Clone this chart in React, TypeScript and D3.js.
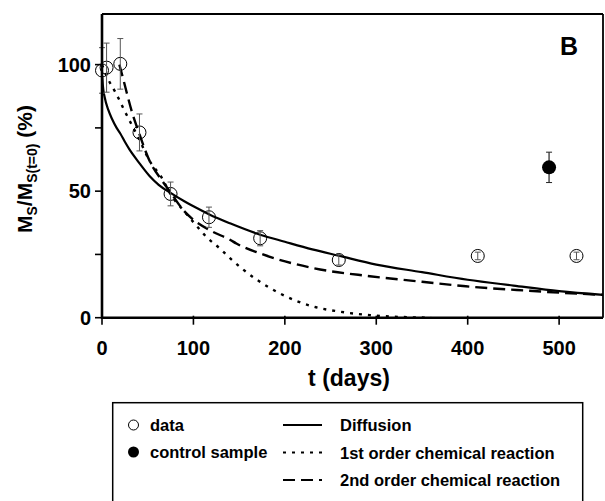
import React from "react";
import * as d3 from "d3";

// ---- data ----
const dataT = [0, 5, 20, 41, 75, 117, 173, 259, 411, 519];
const dataV = [97.7, 98.8, 100.3, 73.2, 48.9, 39.7, 31.4, 22.8, 24.4, 24.4];
const dataErr = [9, 9.7, 10, 7.3, 4.7, 4, 3, 2, 1.5, 1.5];

const controlT = [489];
const controlV = [59.4];
const controlErr = [6];

const diffT = [0.3, 1, 3, 7, 11, 16, 20, 25, 30, 40, 52, 62, 75, 90, 100, 118, 140, 173, 200, 230, 259, 300, 350, 400, 450, 500, 550];
const diffV = [95, 91.5, 87, 82, 78.5, 75, 72.8, 69.5, 66.5, 61.5, 56, 52.5, 49.3, 46, 44, 40.7, 37.3, 32.8, 30, 27, 24.5, 21, 18, 15, 12.7, 10.5, 9];

const firstT = [0, 7, 14, 19, 25, 30, 40, 52, 65, 75, 90, 103, 114, 130, 140, 167, 194, 231, 260, 293, 320, 360];
const firstV = [100, 94, 89.5, 86, 81.5, 78, 71, 62, 55.5, 48.8, 42, 36.5, 32, 27, 23.5, 15.6, 9.7, 4.4, 2.4, 1, 0.4, 0];

const secondT = [19, 22, 27, 33, 40, 52, 65, 75, 89, 100, 121, 140, 147, 176, 231, 293, 350, 398, 464, 500, 550];
const secondV = [100, 96, 89, 81, 73.5, 62, 54.5, 49.5, 42.5, 38.7, 34, 30.8, 29.3, 25, 19.6, 16.4, 14.2, 12.4, 10.7, 9.9, 9];

const xTicks = [0, 100, 200, 300, 400, 500];
const yTicks = [0, 25, 50, 75, 100];
const yTickLabels = [0, 50, 100];

const legendMarkers = ["data", "control sample"];
const legendLines = ["Diffusion", "1st order chemical reaction", "2nd order chemical reaction"];

const FONT = "'Liberation Sans', Arial, Helvetica, sans-serif";

export default function App() {
  const L = 102, R = 603, T = 14, B = 317.7;
  const x = d3.scaleLinear().domain([0, 548]).range([L, R]);
  const y = d3.scaleLinear().domain([0, 120]).range([B, T]);

  const mk = (ts: number[], vs: number[]) =>
    d3.line<number>().x((_, i) => x(ts[i])).y((_, i) => y(vs[i])).curve(d3.curveMonotoneX)(ts) || "";

  const diffPath = mk(diffT, diffV);
  const firstPath = mk(firstT, firstV);
  const secondPath = mk(secondT, secondV);

  const lineStyles = [
    { dash: undefined as string | undefined },
    { dash: "3,6" },
    { dash: "12,6" },
  ];

  return (
    <svg width={605} height={501} style={{ display: "block", position: "absolute", left: 0, top: 0 }} fontFamily={FONT}>
      <rect x={0} y={0} width={605} height={501} fill="#fff" />
      <defs>
        <clipPath id="plotclip">
          <rect x={L} y={T} width={R - L} height={B - T} />
        </clipPath>
      </defs>

      {/* curves */}
      <g clipPath="url(#plotclip)" fill="none" stroke="#000">
        <path d={diffPath} strokeWidth={2.2} />
        <path d={firstPath} strokeWidth={2.4} strokeDasharray="3,6" />
        <path d={secondPath} strokeWidth={2.4} strokeDasharray="12,6" />
      </g>

      {/* data points */}
      {dataT.map((t, i) => (
        <g key={"d" + i}>
          <circle cx={x(t)} cy={y(dataV[i])} r={6.5} fill="none" stroke="#000" strokeWidth={1} />
          <line x1={x(t)} x2={x(t)} y1={y(dataV[i] - dataErr[i])} y2={y(dataV[i] + dataErr[i])} stroke="#555" strokeWidth={1} />
          <line x1={x(t) - 3} x2={x(t) + 3} y1={y(dataV[i] - dataErr[i])} y2={y(dataV[i] - dataErr[i])} stroke="#555" strokeWidth={1} />
          <line x1={x(t) - 3} x2={x(t) + 3} y1={y(dataV[i] + dataErr[i])} y2={y(dataV[i] + dataErr[i])} stroke="#555" strokeWidth={1} />
        </g>
      ))}
      {controlT.map((t, i) => (
        <g key={"c" + i}>
          <line x1={x(t)} x2={x(t)} y1={y(controlV[i] - controlErr[i])} y2={y(controlV[i] + controlErr[i])} stroke="#222" strokeWidth={1.2} />
          <line x1={x(t) - 3} x2={x(t) + 3} y1={y(controlV[i] - controlErr[i])} y2={y(controlV[i] - controlErr[i])} stroke="#222" strokeWidth={1} />
          <line x1={x(t) - 3} x2={x(t) + 3} y1={y(controlV[i] + controlErr[i])} y2={y(controlV[i] + controlErr[i])} stroke="#222" strokeWidth={1} />
          <circle cx={x(t)} cy={y(controlV[i])} r={7} fill="#000" />
        </g>
      ))}

      {/* frame */}
      <line x1={L} x2={R} y1={T} y2={T} stroke="#000" strokeWidth={1.8} />
      <line x1={R} x2={R} y1={T} y2={B} stroke="#000" strokeWidth={1.8} />
      <line x1={L} x2={L} y1={T} y2={B + 1} stroke="#000" strokeWidth={2.6} />
      <line x1={L - 1} x2={R} y1={B} y2={B} stroke="#000" strokeWidth={2.6} />

      {/* x ticks */}
      {xTicks.map((t) => (
        <g key={"xt" + t}>
          <line x1={x(t)} x2={x(t)} y1={B - 2} y2={B + 7} stroke="#000" strokeWidth={1.6} />
          <text x={x(t)} y={355} textAnchor="middle" fontSize={20} fontWeight="bold">{t}</text>
        </g>
      ))}
      {/* y ticks */}
      {yTicks.map((v) => (
        <line key={"yt" + v} x1={L - 7} x2={L} y1={y(v)} y2={y(v)} stroke="#000" strokeWidth={1.6} />
      ))}
      {yTickLabels.map((v) => (
        <text key={"yl" + v} x={91} y={y(v) + 7} textAnchor="end" fontSize={20} fontWeight="bold">{v}</text>
      ))}

      {/* axis titles */}
      <text x={349} y={386} textAnchor="middle" fontSize={23} fontWeight="bold">t (days)</text>
      <text transform={`translate(32,169) rotate(-90)`} textAnchor="middle" fontSize={21} fontWeight="bold">
        <tspan>M</tspan>
        <tspan fontSize={14} dy={5}>S</tspan>
        <tspan dy={-5}>/M</tspan>
        <tspan fontSize={14} dy={5}>S(t=0)</tspan>
        <tspan dy={-5}> (%)</tspan>
      </text>

      {/* panel label */}
      <text x={560} y={55} fontSize={25} fontWeight="bold">B</text>

      {/* legend */}
      <rect x={112.7} y={402.7} width={470} height={120} fill="none" stroke="#000" strokeWidth={1.5} />
      <circle cx={133.5} cy={425} r={5} fill="#fff" stroke="#000" strokeWidth={1} />
      <circle cx={133.5} cy={452} r={5.5} fill="#000" />
      {legendMarkers.map((s, i) => (
        <text key={"lm" + i} x={150} y={431 + i * 27} fontSize={16.5} fontWeight="bold">{s}</text>
      ))}
      {legendLines.map((s, i) => (
        <g key={"ll" + i}>
          <line x1={283} x2={322} y1={425 + i * 27.5} y2={425 + i * 27.5} stroke="#000" strokeWidth={2.2} strokeDasharray={lineStyles[i].dash} />
          <text x={340} y={431 + i * 27.5} fontSize={16.5} fontWeight="bold">{s}</text>
        </g>
      ))}
    </svg>
  );
}
